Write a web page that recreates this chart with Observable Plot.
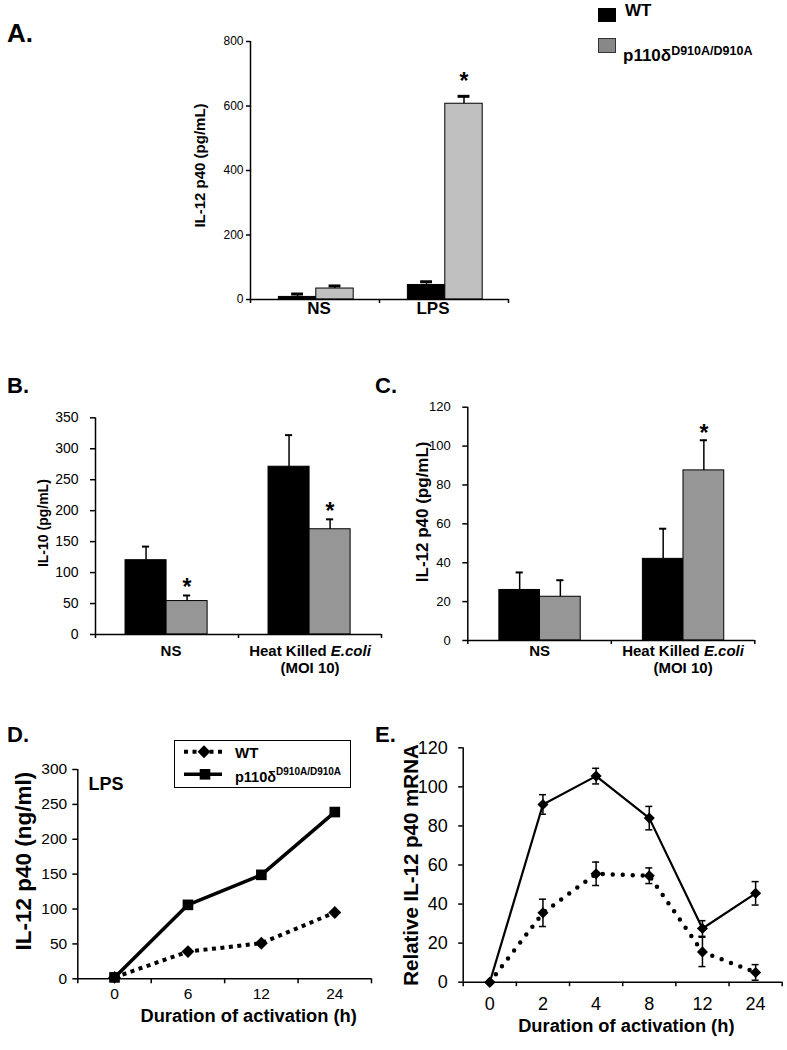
<!DOCTYPE html>
<html>
<head>
<meta charset="utf-8">
<script src="https://cdn.jsdelivr.net/npm/d3@7"></script>
<script src="https://cdn.jsdelivr.net/npm/@observablehq/plot@0.6"></script>
<style>
  body { margin: 0; background: #fff; }
  #fig { position: relative; width: 787px; height: 1050px; overflow: hidden;
         font-family: "Liberation Sans", Arial, Helvetica, sans-serif; color: #000; background: #fff; }
  .abs { position: absolute; white-space: nowrap; }
  .plab { position: absolute; font-weight: bold; line-height: 1; }
</style>
</head>
<body>
<div id="fig"></div>
<script>
const FONT = '"Liberation Sans", Arial, Helvetica, sans-serif';

// ---------------- DATA ----------------
const genotypes = [{base: "WT", sup: ""}, {base: "p110δ", sup: "D910A/D910A"}];

// Panel A: IL-12 p40 (pg/mL)
const aCategories = ["NS", "LPS"];
const aWT = [8, 45];
const aWTErr = [9, 10];
const aKO = [34, 607];
const aKOErr = [8, 23];
const aKOSig = [false, true];
const aTicks = [0, 200, 400, 600, 800];

// Panel B: IL-10 (pg/mL)
const bcCategories = ["NS", "Heat Killed E.coli"];
const bcCategorySub = ["", "(MOI 10)"];
const bcItalic = "E.coli";
const bWT = [120, 271];
const bWTErr = [22, 51];
const bKO = [54, 170];
const bKOErr = [9, 16];
const bKOSig = [true, true];
const bTicks = [0, 50, 100, 150, 200, 250, 300, 350];

// Panel C: IL-12 p40 (pg/mL)
const cWT = [26, 42];
const cWTErr = [9, 15.5];
const cKO = [22.5, 87.5];
const cKOErr = [8.5, 15.5];
const cKOSig = [false, true];
const cTicks = [0, 20, 40, 60, 80, 100, 120];

// Panel D: IL-12 p40 (ng/ml), LPS time course
const dTimes = ["0", "6", "12", "24"];
const dWT = [2, 39, 51, 95];
const dKO = [2, 106, 149, 239];
const dTicks = [0, 50, 100, 150, 200, 250, 300];

// Panel E: relative IL-12 p40 mRNA
const eTimes = ["0", "2", "4", "8", "12", "24"];
const eWT = [0, 35.5, 55.5, 54.5, 15.5, 5];
const eWTErr = [0, 7, 6, 4, 7.5, 4];
const eKO = [0, 91, 105.5, 84, 27.5, 45.5];
const eKOErr = [0, 5, 4, 6, 4, 6];
const eTicks = [0, 20, 40, 60, 80, 100, 120];

// ---------------- HELPERS ----------------
const fig = document.getElementById("fig");
function place(el, left, top) {
  el.style.position = "absolute";
  el.style.left = left + "px";
  el.style.top = top + "px";
  fig.appendChild(el);
  return el;
}
function frame(box, f) {
  return {
    width: box.w, height: box.h,
    marginLeft: f.x0 - box.x, marginRight: box.x + box.w - f.x1,
    marginTop: f.y0 - box.y, marginBottom: box.y + box.h - f.y1
  };
}
function measure(text, font) {
  const c = measure.c || (measure.c = document.createElement("canvas").getContext("2d"));
  c.font = font;
  return c.measureText(text).width;
}
const plotStyle = {background: "transparent", fontFamily: FONT, overflow: "visible", color: "#000"};

function categoryLabelMarks(cats, subs, o) {
  const marks = [];
  cats.forEach((c, i) => {
    const baseDx = (o.catDx && o.catDx[i]) || 0;
    if (bcItalic && c.endsWith(bcItalic) && c !== bcItalic) {
      const head = c.slice(0, c.length - bcItalic.length).trimEnd();
      const f = `bold ${o.catSize}px ${FONT}`;
      const fi = `italic bold ${o.catSize}px ${FONT}`;
      const w1 = measure(head, f), ws = measure(" ", f), w2 = measure(bcItalic, fi);
      const total = w1 + ws + w2;
      marks.push(Plot.text([i], {x: d => d + 0.5, frameAnchor: "bottom", text: () => head,
        textAnchor: "end", dx: baseDx - total / 2 + w1, dy: o.catDy, fontSize: o.catSize, fontWeight: "bold"}));
      marks.push(Plot.text([i], {x: d => d + 0.5, frameAnchor: "bottom", text: () => bcItalic,
        textAnchor: "start", dx: baseDx - total / 2 + w1 + ws, dy: o.catDy, fontSize: o.catSize,
        fontWeight: "bold", fontStyle: "italic"}));
    } else {
      marks.push(Plot.text([i], {x: d => d + 0.5, frameAnchor: "bottom", text: () => c,
        textAnchor: "middle", dx: baseDx, dy: o.catDy, fontSize: o.catSize, fontWeight: "bold"}));
    }
    if (subs && subs[i]) {
      marks.push(Plot.text([i], {x: d => d + 0.5, frameAnchor: "bottom", text: () => subs[i],
        textAnchor: "middle", dx: baseDx, dy: o.catDy + o.subGap, fontSize: o.catSize, fontWeight: "bold"}));
    }
  });
  return marks;
}

function barPanel(o) {
  const rows = o.cats.flatMap((c, i) => [
    {i, g: 0, v: o.wt[i], e: o.wtErr[i], sig: false},
    {i, g: 1, v: o.ko[i], e: o.koErr[i], sig: o.sig[i]}
  ]);
  const x1 = d => d.i + o.off[d.g];
  const x2 = d => d.i + o.off[d.g + 1];
  const xc = d => d.i + (o.off[d.g] + o.off[d.g + 1]) / 2;
  const top = d => d.v + d.e;
  const plot = Plot.plot({
    ...frame(o.box, o.fr),
    style: plotStyle,
    x: {type: "linear", domain: [0, o.cats.length]},
    y: {type: "linear", domain: [0, o.yMax]},
    marks: [
      Plot.rect(rows.filter(d => d.g === 0), {x1, x2, y1: () => 0, y2: "v", fill: "#000", stroke: "#000", strokeWidth: 1}),
      Plot.rect(rows.filter(d => d.g === 1), {x1, x2, y1: () => 0, y2: "v", fill: o.koColor, stroke: "#000", strokeWidth: 1}),
      Plot.ruleX(rows, {x: xc, y1: "v", y2: top, strokeWidth: o.errW}),
      Plot.ruleY(rows, {y: top, x1: d => xc(d) - o.cap, x2: d => xc(d) + o.cap, strokeWidth: o.capW}),
      Plot.text(rows.filter(d => d.sig), {x: xc, y: top, text: () => "*", dy: o.starDy,
        fontSize: o.starSize, fontWeight: "bold"}),
      Plot.ruleX([0], {strokeWidth: 1.5}),
      Plot.ruleY([0], {strokeWidth: 1.5}),
      Plot.axisY({ticks: o.yTicks, tickSize: o.yTickSize, tickPadding: o.yTickPad, fontSize: o.tickFont,
        label: null, strokeWidth: 1.5}),
      Plot.axisX({ticks: d3.range(o.cats.length + 1), tickSize: o.xTickSize, tickFormat: () => "",
        label: null, strokeWidth: 1.5}),
      ...categoryLabelMarks(o.cats, o.subs, o),
      Plot.text([o.yLabel], {frameAnchor: "left", text: d => d, rotate: -90, textAnchor: "middle",
        dx: o.yLabelDx, dy: o.yLabelDy || 0, fontSize: o.yLabelSize, fontWeight: "bold"})
    ]
  });
  place(plot, o.box.x, o.box.y);
}

// ---------------- PANEL A ----------------
barPanel({
  box: {x: 150, y: 20, w: 380, h: 315}, fr: {x0: 250, x1: 508, y0: 41, y1: 299},
  cats: aCategories, subs: null, wt: aWT, wtErr: aWTErr, ko: aKO, koErr: aKOErr, sig: aKOSig,
  yMax: 800, yTicks: aTicks, koColor: "#c0c0c0", off: [0.22, 0.51, 0.8],
  cap: 0.046, errW: 1.5, capW: 3, starSize: 23, starDy: -15,
  yTickSize: 4, yTickPad: 3, tickFont: 12, xTickSize: 4,
  catSize: 17, catDy: 14, catDx: [4, -11],
  yLabel: "IL-12 p40 (pg/mL)", yLabelDx: -50, yLabelDy: -5, yLabelSize: 15
});

// ---------------- PANEL B ----------------
barPanel({
  box: {x: 0, y: 335, w: 390, h: 350}, fr: {x0: 95, x1: 381, y0: 417.3, y1: 634},
  cats: bcCategories, subs: bcCategorySub, wt: bWT, wtErr: bWTErr, ko: bKO, koErr: bKOErr, sig: bKOSig,
  yMax: 350, yTicks: bTicks, koColor: "#969696", off: [0.21, 0.497, 0.784],
  cap: 0.025, errW: 1.5, capW: 2, starSize: 23, starDy: -8,
  yTickSize: 5, yTickPad: 12, tickFont: 14, xTickSize: 4,
  catSize: 15, catDy: 21, subGap: 17, catDx: [4, 0],
  yLabel: "IL-10 (pg/mL)", yLabelDx: -52, yLabelDy: -3, yLabelSize: 14
});

// ---------------- PANEL C ----------------
barPanel({
  box: {x: 390, y: 335, w: 397, h: 350}, fr: {x0: 467.3, x1: 754.3, y0: 406.7, y1: 640},
  cats: bcCategories, subs: bcCategorySub, wt: cWT, wtErr: cWTErr, ko: cKO, koErr: cKOErr, sig: cKOSig,
  yMax: 120, yTicks: cTicks, koColor: "#969696", off: [0.22, 0.503, 0.787],
  cap: 0.025, errW: 1.5, capW: 2, starSize: 23, starDy: -7,
  yTickSize: 5, yTickPad: 12, tickFont: 13, xTickSize: 4,
  catSize: 15, catDy: 15, subGap: 17, catDx: [0, 0],
  yLabel: "IL-12 p40 (pg/mL)", yLabelDx: -45.6, yLabelDy: -12, yLabelSize: 17
});

// ---------------- PANEL D ----------------
{
  const box = {x: 0, y: 685, w: 395, h: 365}, fr = {x0: 77.3, x1: 371, y0: 769, y1: 978.3};
  const X = (d, i) => i + 0.5;
  const plot = Plot.plot({
    ...frame(box, fr),
    style: plotStyle,
    x: {type: "linear", domain: [0, dTimes.length]},
    y: {type: "linear", domain: [0, 300]},
    marks: [
      Plot.ruleX([0], {strokeWidth: 1.5}),
      Plot.ruleY([0], {strokeWidth: 1.5}),
      Plot.axisY({ticks: dTicks, tickSize: 5, tickPadding: 5.6, fontSize: 15.5, label: null, strokeWidth: 1.5}),
      Plot.axisX({ticks: d3.range(dTimes.length + 1), tickSize: 5, tickFormat: () => "", label: null, strokeWidth: 1.5}),
      Plot.text(dTimes, {x: X, frameAnchor: "bottom", text: d => d, textAnchor: "middle", dy: 20, fontSize: 15.5}),
      Plot.line(dWT, {x: X, y: d => d, strokeWidth: 4, strokeDasharray: "4,4.5", strokeLinecap: "butt"}),
      Plot.line(dKO, {x: X, y: d => d, strokeWidth: 3.5}),
      Plot.dot(dWT, {x: X, y: d => d, symbol: "diamond2", r: 5.8, fill: "#000"}),
      Plot.dot(dKO, {x: X, y: d => d, symbol: "square", r: 6, fill: "#000"}),
      Plot.text(["LPS"], {frameAnchor: "top-left", text: d => d, textAnchor: "start", dx: 10.7, dy: 7.7,
        fontSize: 18, fontWeight: "bold"}),
      Plot.text(["IL-12 p40 (ng/ml)"], {frameAnchor: "left", text: d => d, rotate: -90, textAnchor: "middle",
        dx: -54, dy: -13, fontSize: 22.5, fontWeight: "bold"}),
      Plot.text(["Duration of activation (h)"], {frameAnchor: "bottom", text: d => d, textAnchor: "middle",
        dx: 24, dy: 43.4, fontSize: 18.3, fontWeight: "bold"})
    ]
  });
  place(plot, box.x, box.y);
}

// ---------------- PANEL E ----------------
{
  const box = {x: 395, y: 685, w: 392, h: 365}, fr = {x0: 462.7, x1: 781.7, y0: 747.3, y1: 981.7};
  const rows = (vals, errs, g) => vals.map((v, i) => ({i, v, e: errs[i], g}));
  const kRows = rows(eKO, eKOErr, 1), wRows = rows(eWT, eWTErr, 0);
  const all = [...kRows, ...wRows];
  const errRows = all.filter(d => d.e > 0);
  const X = d => d.i + 0.5;
  const cap = 0.066;
  const plot = Plot.plot({
    ...frame(box, fr),
    style: plotStyle,
    x: {type: "linear", domain: [0, eTimes.length]},
    y: {type: "linear", domain: [0, 120]},
    marks: [
      Plot.ruleX([0], {strokeWidth: 1.5}),
      Plot.ruleY([0], {strokeWidth: 1.5}),
      Plot.axisY({ticks: eTicks, tickSize: 4.5, tickPadding: 11, fontSize: 18, label: null, strokeWidth: 1.5}),
      Plot.axisX({ticks: d3.range(eTimes.length + 1), tickSize: 4.5, tickFormat: () => "", label: null, strokeWidth: 1.5}),
      Plot.text(eTimes, {x: (d, i) => i + 0.5, frameAnchor: "bottom", text: d => d, textAnchor: "middle", dy: 28, fontSize: 18}),
      Plot.line(kRows, {x: X, y: "v", strokeWidth: 2.2}),
      Plot.line(wRows, {x: X, y: "v", strokeWidth: 4.5, strokeDasharray: "0,10", strokeLinecap: "round"}),
      Plot.dot(all, {x: X, y: "v", symbol: "diamond2", r: 5, fill: "#000"}),
      Plot.ruleX(errRows, {x: X, y1: d => d.v - d.e, y2: d => d.v + d.e, strokeWidth: 1.5}),
      Plot.ruleY(errRows, {y: d => d.v + d.e, x1: d => X(d) - cap, x2: d => X(d) + cap, strokeWidth: 1.5}),
      Plot.ruleY(errRows, {y: d => d.v - d.e, x1: d => X(d) - cap, x2: d => X(d) + cap, strokeWidth: 1.5}),
      Plot.text(["Relative IL-12 p40 mRNA"], {frameAnchor: "left", text: d => d, rotate: -90, textAnchor: "middle",
        dx: -52, dy: 0, fontSize: 20.5, fontWeight: "bold"}),
      Plot.text(["Duration of activation (h)"], {frameAnchor: "bottom", text: d => d, textAnchor: "middle",
        dx: 3.6, dy: 50, fontSize: 18.3, fontWeight: "bold"})
    ]
  });
  place(plot, box.x, box.y);
}

// ---------------- PANEL LABELS ----------------
[["A.", 7, 19.6, 26], ["B.", 7, 375, 22], ["C.", 375, 375, 22], ["D.", 7, 724, 22], ["E.", 375, 724, 22]]
  .forEach(([t, x, y, s]) => {
    const d = document.createElement("div");
    d.className = "plab";
    d.style.fontSize = s + "px";
    d.textContent = t;
    place(d, x, y);
  });

// ---------------- TOP LEGEND ----------------
{
  const sw1 = document.createElement("div");
  sw1.style.cssText = "width:18px;height:14px;background:#000;";
  place(sw1, 598, 8);
  const sw2 = document.createElement("div");
  sw2.style.cssText = "width:16px;height:13px;background:#888;border:1px solid #333;";
  place(sw2, 598, 38);
  const t1 = document.createElement("div");
  t1.className = "abs";
  t1.style.cssText += "font-weight:bold;font-size:17px;line-height:17px;";
  t1.textContent = genotypes[0].base;
  place(t1, 625, 2.3);
  const t2 = document.createElement("div");
  t2.className = "abs";
  t2.style.cssText += "font-weight:bold;font-size:17px;line-height:17px;";
  t2.innerHTML = `${genotypes[1].base}<span style="font-size:12.5px;vertical-align:6px;">${genotypes[1].sup}</span>`;
  place(t2, 623, 42.6);
}

// ---------------- PANEL D LEGEND ----------------
{
  const boxEl = document.createElement("div");
  boxEl.style.cssText = "width:177px;height:48px;border:1px solid #000;box-sizing:border-box;background:#fff;";
  place(boxEl, 174, 740);
  const svg = d3.create("svg").attr("width", 60).attr("height", 48);
  svg.append("line").attr("x1", 10).attr("x2", 48).attr("y1", 11.7).attr("y2", 11.7)
    .attr("stroke", "#000").attr("stroke-width", 4).attr("stroke-dasharray", "4,4.5");
  svg.append("path").attr("d", d3.symbol(d3.symbolDiamond2, Math.PI * 5.8 * 5.8)())
    .attr("transform", "translate(30,11.7)").attr("fill", "#000");
  svg.append("line").attr("x1", 10).attr("x2", 48).attr("y1", 34.3).attr("y2", 34.3)
    .attr("stroke", "#000").attr("stroke-width", 3.5);
  svg.append("path").attr("d", d3.symbol(d3.symbolSquare, Math.PI * 6 * 6)())
    .attr("transform", "translate(31,34.3)").attr("fill", "#000");
  place(svg.node(), 174, 740);
  const t1 = document.createElement("div");
  t1.className = "abs";
  t1.style.cssText += "font-weight:bold;font-size:15px;line-height:15px;";
  t1.textContent = genotypes[0].base;
  place(t1, 235, 745);
  const t2 = document.createElement("div");
  t2.className = "abs";
  t2.style.cssText += "font-weight:bold;font-size:14.5px;line-height:14.5px;";
  t2.innerHTML = `${genotypes[1].base}<span style="font-size:10px;vertical-align:7px;">${genotypes[1].sup}</span>`;
  place(t2, 235, 765.4);
}
</script>
</body>
</html>
